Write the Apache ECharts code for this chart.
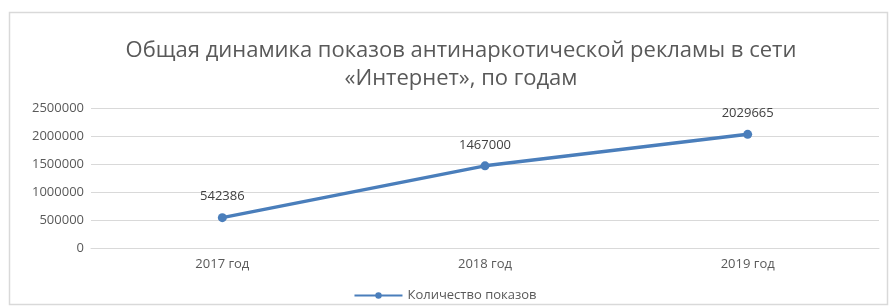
<!DOCTYPE html>
<html>
<head>
<meta charset="utf-8">
<script src="https://cdn.jsdelivr.net/npm/echarts@6/dist/echarts.min.js"></script>
<style>
  html, body { margin: 0; padding: 0; background: #fff; }
  #chart { width: 890px; height: 307px; }
</style>
</head>
<body>
<div id="chart"></div>
<script>
var categories = ['2017 год', '2018 год', '2019 год'];
var shows = [542386, 1467000, 2029665];
var seriesName = 'Количество показов';

var chart = echarts.init(document.getElementById('chart'));

var option = {
  backgroundColor: '#ffffff',
  textStyle: { fontFamily: '"Open Sans", "Noto Sans", sans-serif' },
  graphic: [{
    type: 'rect',
    shape: { x: 9.5, y: 12.5, width: 878, height: 292 },
    style: { fill: 'none', stroke: '#d9d9d9', lineWidth: 1.5 },
    silent: true
  }],
  title: {
    text: 'Общая динамика показов антинаркотической рекламы в сети\n«Интернет», по годам',
    left: 456,
    top: 32,
    textAlign: 'center',
    textStyle: {
      color: '#595959',
      fontSize: 22,
      fontWeight: 'normal',
      lineHeight: 28,
      fontFamily: '"Open Sans", "Noto Sans", sans-serif'
    }
  },
  legend: {
    bottom: 0,
    left: 'center',
    itemWidth: 48,
    itemHeight: 8,
    itemGap: 6,
    textStyle: { color: '#595959', fontSize: 13 },
    data: [seriesName]
  },
  grid: {
    left: 91,
    right: 11,
    top: 108,
    bottom: 59
  },
  xAxis: {
    type: 'category',
    data: categories,
    axisLine: { lineStyle: { color: '#d9d9d9' } },
    axisTick: { show: false },
    axisLabel: { color: '#595959', fontSize: 13, margin: 10 }
  },
  yAxis: {
    type: 'value',
    min: 0,
    max: 2500000,
    interval: 500000,
    axisLine: { show: false },
    axisTick: { show: false },
    axisLabel: {
      color: '#595959',
      fontSize: 13,
      margin: 7,
      formatter: function (v) { return String(v); }
    },
    splitLine: { lineStyle: { color: '#d9d9d9' } }
  },
  series: [{
    name: seriesName,
    type: 'line',
    data: shows,
    symbol: 'circle',
    symbolSize: 9,
    lineStyle: { color: '#4a7ebb', width: 3.5 },
    itemStyle: { color: '#4a7ebb' },
    label: {
      show: true,
      position: 'top',
      distance: 10,
      color: '#404040',
      fontSize: 13
    }
  }]
};

chart.setOption(option);
</script>
</body>
</html>
